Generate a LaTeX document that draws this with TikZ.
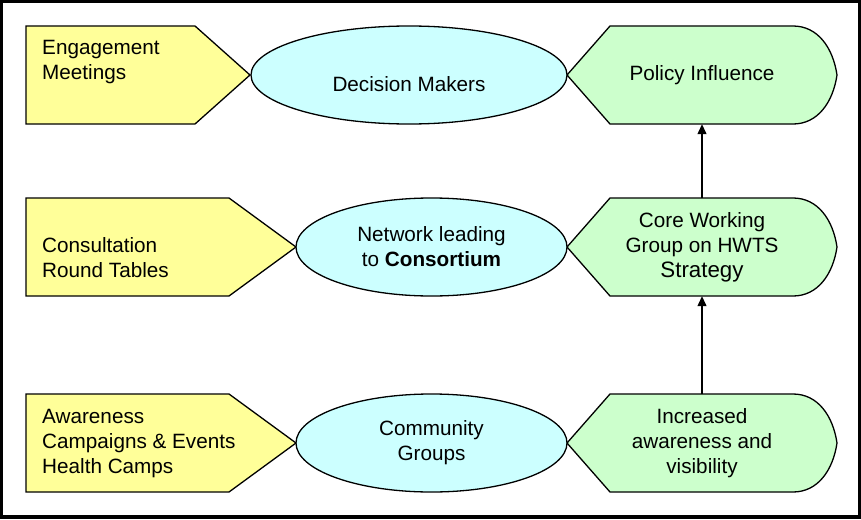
\documentclass[tikz,border=0pt]{standalone}
\usepackage{fontspec}
\setmainfont{Liberation Sans}
\usetikzlibrary{shapes.geometric, arrows.meta}
\definecolor{lyellow}{RGB}{255,255,153}
\definecolor{lcyan}{RGB}{204,255,255}
\definecolor{lgreen}{RGB}{204,255,204}

\begin{document}
\begin{tikzpicture}[
    x=1pt, y=-1pt,
    txt/.style={font=\fontsize{20.7}{25}\selectfont, inner sep=0pt},
    yshape/.style={draw, fill=lyellow, line width=1.3pt},
    gshape/.style={draw, fill=lgreen, line width=1.3pt},
    ell/.style={ellipse, draw, fill=lcyan, line width=1.3pt, minimum height=98pt, txt, align=center},
    ytxt/.style={txt, align=left, anchor=north west},
    gbox/.style={txt, align=center, minimum width=270pt, minimum height=98pt},
    up/.style={-{Triangle[length=10pt, width=9pt]}, line width=1.3pt}
]
\fill[black] (0,0) rectangle (861,519);
\fill[white] (3,3) rectangle (858,515);

\filldraw[yshape] (26,26) -- (195,26) -- (250,75) -- (195,124) -- (26,124) -- cycle;
\filldraw[yshape] (26,198) -- (229,198) -- (296,247) -- (229,296) -- (26,296) -- cycle;
\filldraw[yshape] (26,394) -- (229,394) -- (296,443) -- (229,492) -- (26,492) -- cycle;

\filldraw[gshape] (567,75) -- (610,26) -- (793,26) .. controls (818,26) and (833,48) .. (837,75)
    .. controls (833,102) and (818,124) .. (793,124) -- (610,124) -- cycle;
\filldraw[gshape] (567,247) -- (610,198) -- (793,198) .. controls (818,198) and (833,220) .. (837,247)
    .. controls (833,274) and (818,296) .. (793,296) -- (610,296) -- cycle;
\filldraw[gshape] (567,443) -- (610,394) -- (793,394) .. controls (818,394) and (833,416) .. (837,443)
    .. controls (833,470) and (818,492) .. (793,492) -- (610,492) -- cycle;

\node[ytxt] (eng) at (42,40) {Engagement\\Meetings};
\node[ytxt] (con) at (42,237) {Consultation\\Round Tables};
\node[ytxt] (awa) at (42,409) {Awareness\\Campaigns \& Events\\Health Camps};

\node[ell, minimum width=316pt, label={[txt, yshift=-9pt]center:Decision Makers}] (dm) at (409,75) {};
\node[ell, minimum width=271pt] (net) at (431.5,247) {Network leading\\to \textbf{Consortium}};
\node[ell, minimum width=271pt] (com) at (431.5,443) {Community\\Groups};

\node[gbox] (pol) at (702,75) {Policy Influence};
\node[gbox] (core) at (702,247) {Core Working\\Group on HWTS\\{\fontsize{22.3}{26}\selectfont Strategy}};
\node[gbox] (inc) at (702,443) {Increased\\awareness and\\visibility};

\draw[up] (inc) -- (core);
\draw[up] (core) -- (pol);
\end{tikzpicture}
\end{document}
